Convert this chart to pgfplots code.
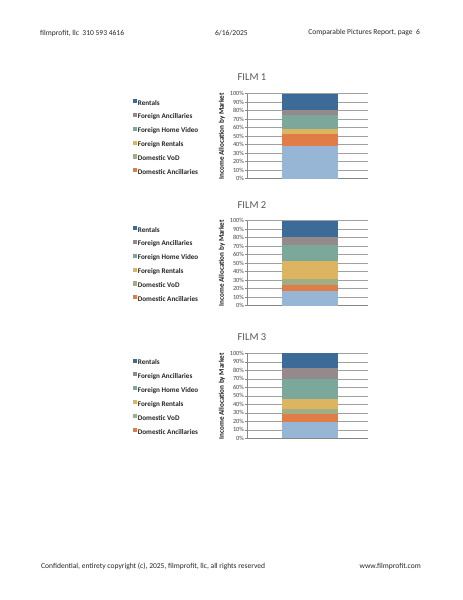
\documentclass[border=0pt]{standalone}
\usepackage{pgfplots}
\pgfplotsset{compat=1.18}
\usepackage{fontspec}
\setmainfont{Carlito}
\definecolor{cRent}{RGB}{61,107,152}
\definecolor{cFA}{RGB}{148,138,139}
\definecolor{cFHV}{RGB}{123,168,155}
\definecolor{cFR}{RGB}{221,180,95}
\definecolor{cDV}{RGB}{161,173,133}
\definecolor{cDA}{RGB}{224,124,69}
\definecolor{cBase}{RGB}{151,182,214}
\definecolor{gridgray}{RGB}{160,160,160}
\definecolor{axisgray}{RGB}{134,134,134}
\definecolor{tickgray}{RGB}{70,70,70}
\definecolor{titlegray}{RGB}{89,89,89}
\pgfplotsset{
  filmstyle/.style={
    ybar stacked,
    scale only axis,
    width=159.9bp, height=112.4bp,
    xmin=0, xmax=1, ymin=0, ymax=100,
    bar width=74bp,
    ytick={0,10,...,100}, xtick=\empty,
    axis x line=bottom, axis y line=left,
    axis line style={draw=axisgray, line width=0.6pt, -},
    ymajorgrids, grid style={draw=gridgray, line width=0.6pt},
    y tick style={draw=axisgray, line width=0.6pt},
    tick align=outside, major tick length=3bp,
    /pgf/number format/assume math mode=true,
    yticklabel={\pgfmathprintnumber{\tick}\%},
    yticklabel style={font=\fontsize{8.3}{9}\selectfont, text=tickgray, inner sep=1bp},
    reverse legend,
    legend cell align=left,
    legend image code/.code={\fill[#1] (0bp,0.4bp) rectangle (5.4bp,5.8bp);},
    legend style={at={(rel axis cs:-0.942,0.94)}, anchor=north west, draw=none, fill=none,
      inner sep=0pt, row sep=7.5bp,
      font=\bfseries\fontsize{9.5}{10}\selectfont, text=black!85,
      nodes={inner sep=0.8bp, text height=6.5bp, text depth=2bp},
      /tikz/column 2/.style={column sep=2.5bp}},
  }
}
\begin{document}
\begin{tikzpicture}[x=1.32181bp, y=1.32181bp]
\fill[white] (0,0) rectangle (463,600);
\coordinate (A1) at (247,421.3);
\coordinate (A2) at (247,294.3);
\coordinate (A3) at (247,161.7);
% header / footer
\begin{scope}[every node/.style={font=\fontsize{10}{12}\selectfont, inner sep=0pt, text=black!85}]
\node[anchor=west] at (40,567) {filmprofit, llc\ \ 310 593 4616};
\node[anchor=west] at (215,567) {6/16/2025};
\node[anchor=east] at (420,567) {Comparable Pictures Report, page\ \ 6};
\node[anchor=west] at (41,33.5) {Confidential, entirety copyright (c), 2025, filmprofit, llc, all rights reserved};
\node[anchor=east] at (421,33.5) {www.filmprofit.com};
\end{scope}
% titles and y labels
\begin{scope}[every node/.style={inner sep=0pt}]
\node[font=\fontsize{14}{16}\selectfont, text=titlegray] at (252,523) {FILM 1};
\node[font=\fontsize{14}{16}\selectfont, text=titlegray] at (252,395) {FILM 2};
\node[font=\fontsize{14}{16}\selectfont, text=titlegray] at (252,263) {FILM 3};
\node[rotate=90, font=\bfseries\fontsize{9.5}{10}\selectfont, text=black!90] at (222,463.8) {Income Allocation by Market};
\node[rotate=90, font=\bfseries\fontsize{9.5}{10}\selectfont, text=black!90] at (222,336.8) {Income Allocation by Market};
\node[rotate=90, font=\bfseries\fontsize{9.5}{10}\selectfont, text=black!90] at (222,203.7) {Income Allocation by Market};
\end{scope}
% FILM 1
\begin{axis}[filmstyle, at={(A1)}, anchor=south west]
\addplot[fill=cBase, draw=none, forget plot] coordinates {(0.52,38)};
\addplot[fill=cDA, draw=none] coordinates {(0.52,15)};
\addlegendentry{Domestic Ancillaries}
\addplot[fill=cDV, draw=none] coordinates {(0.52,0)};
\addlegendentry{Domestic VoD}
\addplot[fill=cFR, draw=none] coordinates {(0.52,5)};
\addlegendentry{Foreign Rentals}
\addplot[fill=cFHV, draw=none] coordinates {(0.52,17)};
\addlegendentry{Foreign Home Video}
\addplot[fill=cFA, draw=none] coordinates {(0.52,6)};
\addlegendentry{Foreign Ancillaries}
\addplot[fill=cRent, draw=none] coordinates {(0.52,19)};
\addlegendentry{Rentals}
\end{axis}
% FILM 2
\begin{axis}[filmstyle, at={(A2)}, anchor=south west]
\addplot[fill=cBase, draw=none, forget plot] coordinates {(0.52,17.5)};
\addplot[fill=cDA, draw=none] coordinates {(0.52,6.8)};
\addlegendentry{Domestic Ancillaries}
\addplot[fill=cDV, draw=none] coordinates {(0.52,7.1)};
\addlegendentry{Domestic VoD}
\addplot[fill=cFR, draw=none] coordinates {(0.52,21.1)};
\addlegendentry{Foreign Rentals}
\addplot[fill=cFHV, draw=none] coordinates {(0.52,18.5)};
\addlegendentry{Foreign Home Video}
\addplot[fill=cFA, draw=none] coordinates {(0.52,9.8)};
\addlegendentry{Foreign Ancillaries}
\addplot[fill=cRent, draw=none] coordinates {(0.52,19.2)};
\addlegendentry{Rentals}
\end{axis}
% FILM 3
\begin{axis}[filmstyle, at={(A3)}, anchor=south west]
\addplot[fill=cBase, draw=none, forget plot] coordinates {(0.52,19.4)};
\addplot[fill=cDA, draw=none] coordinates {(0.52,9.6)};
\addlegendentry{Domestic Ancillaries}
\addplot[fill=cDV, draw=none] coordinates {(0.52,5.9)};
\addlegendentry{Domestic VoD}
\addplot[fill=cFR, draw=none] coordinates {(0.52,11.9)};
\addlegendentry{Foreign Rentals}
\addplot[fill=cFHV, draw=none] coordinates {(0.52,22.6)};
\addlegendentry{Foreign Home Video}
\addplot[fill=cFA, draw=none] coordinates {(0.52,13.1)};
\addlegendentry{Foreign Ancillaries}
\addplot[fill=cRent, draw=none] coordinates {(0.52,17.5)};
\addlegendentry{Rentals}
\end{axis}
\end{tikzpicture}
\end{document}
